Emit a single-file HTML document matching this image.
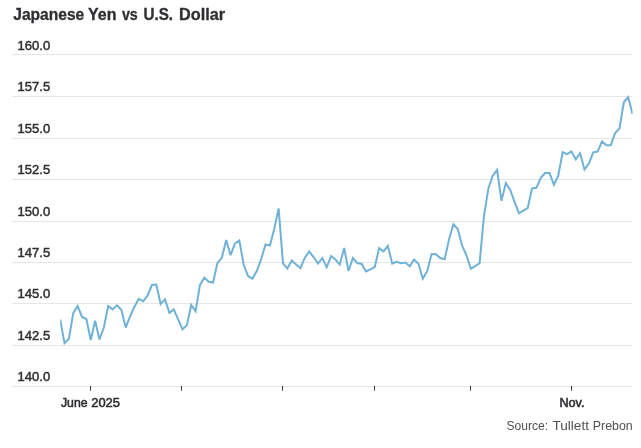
<!DOCTYPE html>
<html lang="en"><head><meta charset="utf-8"><title>Japanese Yen vs U.S. Dollar</title>
<style>html,body{margin:0;padding:0;background:#fff}body{width:641px;height:448px;overflow:hidden}svg{display:block}text{font-family:"Liberation Sans",sans-serif}</style></head><body>
<svg width="641" height="448" viewBox="0 0 641 448">
<rect width="641" height="448" fill="#ffffff"/>
<text y="20.35" font-size="15.6" font-weight="700" fill="#2f2f33" stroke="#2f2f33" stroke-width="0.3"><tspan x="13.25" textLength="70.98" lengthAdjust="spacingAndGlyphs">Japanese</tspan> <tspan x="88.10" textLength="28.38" lengthAdjust="spacingAndGlyphs">Yen</tspan> <tspan x="121.90" textLength="15.85" lengthAdjust="spacingAndGlyphs">vs</tspan> <tspan x="143.50" textLength="29.60" lengthAdjust="spacingAndGlyphs">U.S.</tspan> <tspan x="179.00" textLength="45.99" lengthAdjust="spacingAndGlyphs">Dollar</tspan></text>
<line x1="12" x2="632.5" y1="54.5" y2="54.5" stroke="#e6e6e6" stroke-width="1"/>
<text x="17.60" y="49.80" font-size="12.2" font-weight="400" fill="#2f2f33" textLength="32.60" lengthAdjust="spacingAndGlyphs" stroke="#2f2f33" stroke-width="0.45">160.0</text>
<line x1="12" x2="632.5" y1="96.5" y2="96.5" stroke="#e6e6e6" stroke-width="1"/>
<text x="17.60" y="90.80" font-size="12.2" font-weight="400" fill="#2f2f33" textLength="32.60" lengthAdjust="spacingAndGlyphs" stroke="#2f2f33" stroke-width="0.45">157.5</text>
<line x1="12" x2="632.5" y1="138.5" y2="138.5" stroke="#e6e6e6" stroke-width="1"/>
<text x="17.60" y="132.80" font-size="12.2" font-weight="400" fill="#2f2f33" textLength="32.60" lengthAdjust="spacingAndGlyphs" stroke="#2f2f33" stroke-width="0.45">155.0</text>
<line x1="12" x2="632.5" y1="179.5" y2="179.5" stroke="#e6e6e6" stroke-width="1"/>
<text x="17.60" y="174.00" font-size="12.2" font-weight="400" fill="#2f2f33" textLength="32.60" lengthAdjust="spacingAndGlyphs" stroke="#2f2f33" stroke-width="0.45">152.5</text>
<line x1="12" x2="632.5" y1="221.5" y2="221.5" stroke="#e6e6e6" stroke-width="1"/>
<text x="17.60" y="215.80" font-size="12.2" font-weight="400" fill="#2f2f33" textLength="32.60" lengthAdjust="spacingAndGlyphs" stroke="#2f2f33" stroke-width="0.45">150.0</text>
<line x1="12" x2="632.5" y1="262.5" y2="262.5" stroke="#e6e6e6" stroke-width="1"/>
<text x="17.60" y="257.00" font-size="12.2" font-weight="400" fill="#2f2f33" textLength="32.60" lengthAdjust="spacingAndGlyphs" stroke="#2f2f33" stroke-width="0.45">147.5</text>
<line x1="12" x2="632.5" y1="303.5" y2="303.5" stroke="#e6e6e6" stroke-width="1"/>
<text x="17.60" y="298.00" font-size="12.2" font-weight="400" fill="#2f2f33" textLength="32.60" lengthAdjust="spacingAndGlyphs" stroke="#2f2f33" stroke-width="0.45">145.0</text>
<line x1="12" x2="632.5" y1="345.5" y2="345.5" stroke="#e6e6e6" stroke-width="1"/>
<text x="17.60" y="340.00" font-size="12.2" font-weight="400" fill="#2f2f33" textLength="32.60" lengthAdjust="spacingAndGlyphs" stroke="#2f2f33" stroke-width="0.45">142.5</text>
<line x1="12" x2="632.5" y1="386.5" y2="386.5" stroke="#e6e6e6" stroke-width="1"/>
<text x="17.60" y="381.00" font-size="12.2" font-weight="400" fill="#2f2f33" textLength="32.60" lengthAdjust="spacingAndGlyphs" stroke="#2f2f33" stroke-width="0.45">140.0</text>
<line x1="90.5" x2="90.5" y1="386" y2="390.7" stroke="#333" stroke-width="1"/>
<line x1="181.5" x2="181.5" y1="386" y2="390.7" stroke="#333" stroke-width="1"/>
<line x1="282.5" x2="282.5" y1="386" y2="390.7" stroke="#333" stroke-width="1"/>
<line x1="374.5" x2="374.5" y1="386" y2="390.7" stroke="#333" stroke-width="1"/>
<line x1="470.5" x2="470.5" y1="386" y2="390.7" stroke="#333" stroke-width="1"/>
<line x1="571.5" x2="571.5" y1="386" y2="390.7" stroke="#333" stroke-width="1"/>
<text y="406.80" font-size="12.2" font-weight="400" fill="#2f2f33" stroke="#2f2f33" stroke-width="0.55"><tspan x="61.00" textLength="26.51" lengthAdjust="spacingAndGlyphs">June</tspan> <tspan x="91.25" textLength="28.75" lengthAdjust="spacingAndGlyphs">2025</tspan></text>
<text x="559.40" y="406.80" font-size="12.2" font-weight="400" fill="#2f2f33" textLength="25.09" lengthAdjust="spacingAndGlyphs" stroke="#2f2f33" stroke-width="0.55">Nov.</text>
<text y="429.60" font-size="12.6" font-weight="400" fill="#505050"><tspan x="506.50" textLength="41.49" lengthAdjust="spacingAndGlyphs">Source:</tspan> <tspan x="552.40" textLength="36.62" lengthAdjust="spacingAndGlyphs">Tullett</tspan> <tspan x="592.80" textLength="39.95" lengthAdjust="spacingAndGlyphs">Prebon</tspan></text>
<clipPath id="plot"><rect x="60.1" y="30" width="572.5" height="357"/></clipPath>
<polyline clip-path="url(#plot)" transform="translate(0,0.3)" points="60.15,319.10 64.52,342.90 68.89,338.50 73.26,312.90 77.63,305.75 82.00,316.60 86.37,318.75 90.74,339.75 95.11,320.40 99.48,339.10 103.84,327.25 108.21,305.75 112.58,309.10 116.95,305.00 121.32,309.50 125.69,327.25 130.06,316.00 134.43,306.50 138.80,298.50 143.17,301.00 147.54,295.40 151.91,284.75 156.28,284.25 160.65,303.75 165.02,299.10 169.39,312.60 173.76,309.10 178.13,319.10 182.50,329.10 186.87,325.00 191.24,304.75 195.60,311.00 199.97,284.60 204.34,277.40 208.71,281.40 213.08,282.25 217.45,262.60 221.82,257.60 226.19,239.75 230.56,254.90 234.93,243.25 239.30,240.10 243.67,264.50 248.04,275.75 252.41,278.25 256.78,270.75 261.15,258.90 265.52,244.10 269.89,245.20 274.26,228.75 278.62,208.10 282.99,263.00 287.36,268.25 291.73,260.25 296.10,264.25 300.47,267.75 304.84,257.40 309.21,251.10 313.58,256.75 317.95,263.25 322.32,257.75 326.69,267.00 331.06,255.75 335.43,259.25 339.80,264.25 344.17,247.75 348.54,270.75 352.91,257.75 357.28,262.75 361.65,263.60 366.01,271.10 370.38,269.00 374.75,266.75 379.12,248.00 383.49,251.10 387.86,245.75 392.23,263.25 396.60,261.50 400.97,263.00 405.34,262.30 409.71,265.90 414.08,259.25 418.45,263.40 422.82,278.40 427.19,270.90 431.56,253.75 435.93,254.00 440.30,257.75 444.67,259.00 449.04,239.00 453.41,224.00 457.77,228.75 462.14,245.25 466.51,255.25 470.88,268.40 475.25,265.90 479.62,262.80 483.99,215.25 488.36,188.40 492.73,175.50 497.10,169.60 501.47,200.50 505.84,182.75 510.21,189.60 514.58,201.50 518.95,213.00 523.32,210.25 527.69,207.75 532.06,188.00 536.43,187.50 540.80,177.50 545.16,172.80 549.53,172.80 553.90,184.50 558.27,175.40 562.64,151.90 567.01,153.75 571.38,151.00 575.75,159.10 580.12,152.90 584.49,169.10 588.86,163.25 593.23,152.00 597.60,151.25 601.97,141.20 606.34,145.00 610.71,145.00 615.08,132.75 619.45,128.25 623.82,102.00 628.19,96.75 632.55,113.60" fill="none" stroke="#70b1d8" stroke-width="2" stroke-linejoin="miter" stroke-miterlimit="3" stroke-linecap="butt"/>
</svg></body></html>
